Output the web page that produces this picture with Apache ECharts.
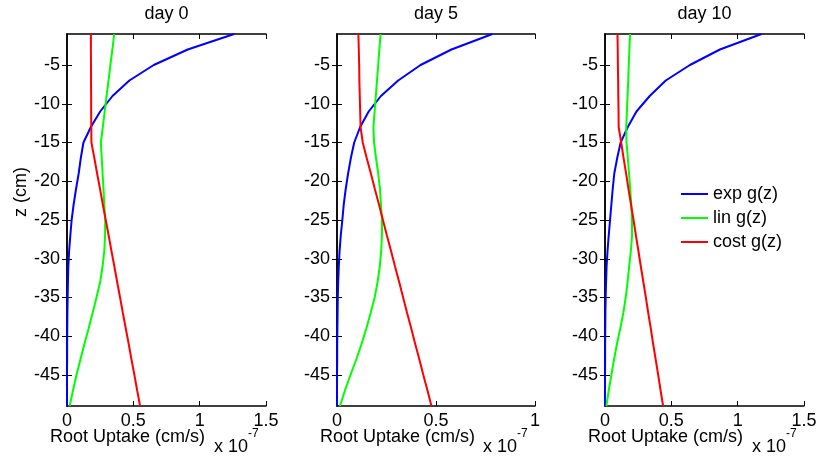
<!DOCTYPE html>
<html>
<head>
<meta charset="utf-8">
<script src="https://cdn.jsdelivr.net/npm/echarts@6/dist/echarts.min.js"></script>
<style>
  html, body { margin: 0; padding: 0; background: #fff; }
  #chart { width: 816px; height: 460px; }
</style>
</head>
<body>
<div id="chart"></div>
<script>
// depth of each sample (cm)
const depth = [-1, -3, -5, -7, -9, -11, -13, -15, -17, -19, -21, -23, -25,
  -27, -29, -31, -33, -35, -37, -39, -41, -43, -45, -47, -49];

// root uptake, units of 1e-7 cm/s
const exp0 = [1.26, 0.91, 0.654, 0.47, 0.343, 0.25, 0.18, 0.124, 0.104, 0.088, 0.068, 0.05, 0.035,
  0.025, 0.016, 0.01, 0.007, 0.005, 0.003, 0.002, 0.001, 0.001, 0, 0, 0];
const lin0 = [0.356, 0.342, 0.327, 0.313, 0.298, 0.284, 0.27, 0.255, 0.262, 0.268, 0.275, 0.281, 0.288,
  0.287, 0.281, 0.268, 0.25, 0.222, 0.193, 0.163, 0.131, 0.101, 0.071, 0.045, 0.02];
const cost0 = [0.18, 0.18, 0.181, 0.181, 0.182, 0.182, 0.183, 0.184, 0.206, 0.227, 0.249, 0.27, 0.292,
  0.314, 0.335, 0.357, 0.378, 0.4, 0.421, 0.443, 0.465, 0.486, 0.508, 0.529, 0.551];

const exp5 = [0.785, 0.578, 0.422, 0.309, 0.222, 0.16, 0.117, 0.087, 0.07, 0.056, 0.044, 0.034, 0.027,
  0.019, 0.013, 0.009, 0.006, 0.004, 0.003, 0.002, 0.001, 0.001, 0, 0, 0];
const lin5 = [0.22, 0.214, 0.208, 0.202, 0.196, 0.19, 0.184, 0.187, 0.197, 0.208, 0.217, 0.222, 0.227,
  0.227, 0.223, 0.216, 0.205, 0.19, 0.17, 0.148, 0.124, 0.097, 0.068, 0.04, 0.015];
const cost5 = [0.108, 0.11, 0.112, 0.113, 0.115, 0.117, 0.119, 0.13, 0.15, 0.171, 0.191, 0.212, 0.232,
  0.252, 0.273, 0.293, 0.314, 0.334, 0.354, 0.375, 0.395, 0.416, 0.436, 0.457, 0.477];

const exp10 = [1.18, 0.866, 0.64, 0.458, 0.337, 0.237, 0.172, 0.118, 0.092, 0.07, 0.058, 0.048, 0.038,
  0.028, 0.019, 0.012, 0.008, 0.005, 0.003, 0.002, 0.001, 0.001, 0, 0, 0];
const lin10 = [0.189, 0.184, 0.179, 0.175, 0.17, 0.165, 0.16, 0.162, 0.172, 0.181, 0.19, 0.198, 0.203,
  0.204, 0.195, 0.182, 0.17, 0.156, 0.138, 0.115, 0.09, 0.068, 0.048, 0.028, 0.01];
const cost10 = [0.094, 0.096, 0.097, 0.099, 0.1, 0.102, 0.103, 0.122, 0.14, 0.159, 0.177, 0.196, 0.215,
  0.233, 0.252, 0.27, 0.289, 0.308, 0.326, 0.345, 0.363, 0.382, 0.401, 0.419, 0.438];

const dayTitles = ["day 0", "day 5", "day 10"];
const xMax = [1.5, 1, 1.5];
const zTicks = [-45, -40, -35, -30, -25, -20, -15, -10, -5];
const seriesNames = ["exp g(z)", "lin g(z)", "cost g(z)"];
const seriesColors = ["#0000ff", "#00ff00", "#ff0000"];
const panelData = [[exp0, lin0, cost0], [exp5, lin5, cost5], [exp10, lin10, cost10]];

const FONT = "'Liberation Sans', Arial, sans-serif";
const panels = [
  { left: 67, width: 199 },
  { left: 337, width: 198 },
  { left: 605, width: 199 },
];
const TOP = 34, HEIGHT = 372;

const chart = echarts.init(document.getElementById("chart"));

const grids = [], xAxes = [], yAxes = [], series = [], graphics = [];
const axisLine = { show: true, lineStyle: { color: "#000", width: 1.5 } };
const tick = { show: true, inside: true, length: 5, lineStyle: { color: "#000", width: 1 } };

panels.forEach((p, i) => {
  grids.push({ left: p.left, top: TOP, width: p.width, height: HEIGHT,
    containLabel: false, outerBoundsMode: "none" });
  // bottom / top x axes
  xAxes.push({
    type: "value", gridIndex: i, position: "bottom", min: 0, max: xMax[i], interval: 0.5,
    axisLine, axisTick: tick, splitLine: { show: false },
    axisLabel: { color: "#000", fontSize: 18, fontFamily: FONT, margin: 6 },
  });
  xAxes.push({
    type: "value", gridIndex: i, position: "top", min: 0, max: xMax[i], interval: 0.5,
    axisLine, axisTick: tick, splitLine: { show: false }, axisLabel: { show: false },
  });
  // left / right y axes
  yAxes.push({
    type: "value", gridIndex: i, position: "left", min: -49, max: -1,
    axisLine, splitLine: { show: false },
    axisTick: Object.assign({ customValues: zTicks }, tick),
    axisLabel: { customValues: zTicks, color: "#000", fontSize: 18, fontFamily: FONT, margin: 7 },
  });
  yAxes.push({
    type: "value", gridIndex: i, position: "right", min: -49, max: -1,
    axisLine, splitLine: { show: false },
    axisTick: Object.assign({ customValues: zTicks }, tick),
    axisLabel: { show: false },
  });

  seriesNames.forEach((name, k) => {
    series.push({
      name, type: "line", xAxisIndex: 2 * i, yAxisIndex: 2 * i,
      data: depth.map((z, j) => [panelData[i][k][j], z]),
      showSymbol: false, symbol: "none", silent: true,
      lineStyle: { color: seriesColors[k], width: 2 },
      itemStyle: { color: seriesColors[k] },
    });
  });

  graphics.push({
    type: "text", x: p.left + p.width / 2, y: 14,
    style: { text: dayTitles[i], fontSize: 18, fontFamily: FONT, fill: "#000",
      align: "center", verticalAlign: "middle" },
  });
  graphics.push({
    type: "text", x: p.left - 17, y: 437,
    style: { text: "Root Uptake (cm/s)", fontSize: 18, fontFamily: FONT, fill: "#000",
      verticalAlign: "middle" },
  });
  graphics.push({
    type: "text", x: p.left + p.width - 52, y: 447,
    style: { text: "x 10", fontSize: 18, fontFamily: FONT, fill: "#000",
      verticalAlign: "middle" },
  });
  graphics.push({
    type: "text", x: p.left + p.width - 18, y: 434,
    style: { text: "-7", fontSize: 12, fontFamily: FONT, fill: "#000",
      verticalAlign: "middle" },
  });
});

graphics.push({
  type: "text", x: 21, y: 192, rotation: Math.PI / 2,
  style: { text: "z (cm)", fontSize: 18, fontFamily: FONT, fill: "#000",
    align: "center", verticalAlign: "middle" },
});

chart.setOption({
  animation: false,
  backgroundColor: "#fff",
  grid: grids,
  xAxis: xAxes,
  yAxis: yAxes,
  series,
  graphic: graphics,
  legend: {
    data: seriesNames,
    orient: "vertical",
    left: 681, top: 182, padding: 0,
    icon: "rect", itemWidth: 27, itemHeight: 2, itemGap: 0,
    textStyle: { fontSize: 18, fontFamily: FONT, color: "#000", lineHeight: 24 },
  },
});
</script>
</body>
</html>
